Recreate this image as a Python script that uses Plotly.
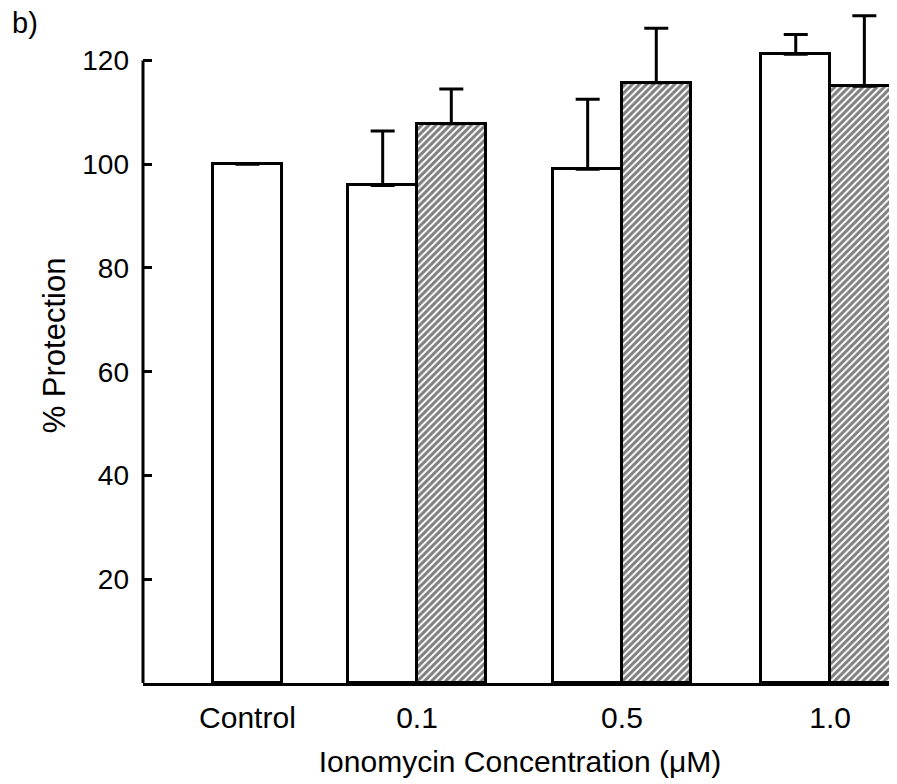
import plotly.graph_objects as go

# ---- data ----
categories = ["Control", "0.1", "0.5", "1.0"]
white_vals = [100, 95.9, 99.0, 121.2]
white_err = [None, 10.5, 13.5, 3.8]   # control has no error bar
hatched_cats = ["0.1", "0.5", "1.0"]
hatched_vals = [107.8, 115.7, 115.0]
hatched_err = [6.7, 10.5, 13.6]
y_ticks = [20, 40, 60, 80, 100, 120]

# ---- layout positions (pixel-derived) ----
cat_pos = {"Control": 0.0, "0.1": 0.823, "0.5": 1.818, "1.0": 2.828}
bw = 0.333
white_x = [cat_pos[c] if c == "Control" else cat_pos[c] - bw / 2 for c in categories]
hatched_x = [cat_pos[c] + bw / 2 for c in hatched_cats]

FONT = "Liberation Sans, Arial, Helvetica, sans-serif"
W, H = 889, 776
ML, MB = 135, 101

fig = go.Figure()
fig.add_trace(go.Bar(
    x=white_x, y=white_vals, width=bw,
    marker=dict(color="white", line=dict(color="black", width=3)),
    error_y=dict(type="data", symmetric=False, array=white_err,
                 arrayminus=[0] * len(white_err), color="black",
                 thickness=3, width=12),
    showlegend=False,
))
fig.add_trace(go.Bar(
    x=hatched_x, y=hatched_vals, width=bw,
    marker=dict(color="white", line=dict(color="black", width=3),
                pattern=dict(shape="/", fgcolor="black", bgcolor="white",
                             size=5, solidity=0.6)),
    error_y=dict(type="data", symmetric=False, array=hatched_err,
                 arrayminus=[0] * len(hatched_err), color="black",
                 thickness=3, width=12),
    showlegend=False,
))

fig.update_layout(
    width=W, height=H,
    margin=dict(l=ML, r=0, t=0, b=MB),
    plot_bgcolor="white", paper_bgcolor="white",
    font=dict(family=FONT, color="black", size=30),
    bargap=0,
    xaxis=dict(
        range=[-0.507, 3.153],
        tickvals=[cat_pos[c] for c in categories],
        ticktext=categories,
        showline=True, linecolor="black", linewidth=3,
        ticks="", showgrid=False, zeroline=False,
        tickfont=dict(size=30),
        ticklabelstandoff=6,
        title=dict(text="Ionomycin Concentration (μM)", font=dict(size=30),
                   standoff=18),
    ),
    yaxis=dict(
        range=[0, 130.1],
        tickvals=y_ticks,
        showline=False,
        ticks="inside", ticklen=9, tickwidth=3, tickcolor="black",
        showgrid=False, zeroline=False,
        tickfont=dict(size=28),
        ticklabelstandoff=13,
        title=dict(text="% Protection", font=dict(size=31), standoff=7),
    ),
)

# y axis line only spans up to the top tick
fig.add_shape(type="line", xref="paper", yref="y",
              x0=0, x1=0, y0=0, y1=max(y_ticks),
              line=dict(color="black", width=3))

fig.add_annotation(text="b)", xref="paper", yref="paper",
                   x=-ML / (W - ML), y=1, xanchor="left", yanchor="top",
                   xshift=2, yshift=3,
                   showarrow=False, font=dict(size=29, family=FONT))

fig.write_html("out.html")
